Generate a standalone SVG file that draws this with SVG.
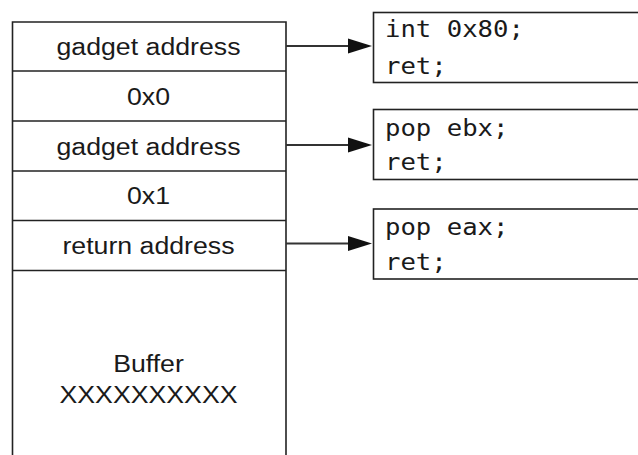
<svg xmlns="http://www.w3.org/2000/svg" width="638" height="455" viewBox="0 0 638 455">
<style>
.box{fill:#fff;stroke:#222;stroke-width:1.6}
.ln{stroke:#222;stroke-width:1.6;fill:none}
.lbl{font-family:"Liberation Sans",Arial,Helvetica,sans-serif;font-size:24.5px;fill:#1a1a1a;text-anchor:middle}
.code{font-family:"DejaVu Sans Mono","Liberation Mono",monospace;font-size:22.5px;fill:#1a1a1a}
.conn{stroke:#333;stroke-width:1.8;fill:none}
.head{fill:#111}
</style>
<rect width="638" height="455" fill="#fff"/>
<g id="stack">
  <path class="ln" d="M12.5,460 V22 H286 V460"/>
  <g id="row-gadget1">
    <line class="ln" x1="12.5" y1="71" x2="286" y2="71"/>
    <text class="lbl" transform="translate(148.5,55) scale(1.09,1)">gadget address</text>
  </g>
  <g id="row-0x0">
    <line class="ln" x1="12.5" y1="121" x2="286" y2="121"/>
    <text class="lbl" transform="translate(148.5,104.5) scale(1.09,1)">0x0</text>
  </g>
  <g id="row-gadget2">
    <line class="ln" x1="12.5" y1="171" x2="286" y2="171"/>
    <text class="lbl" transform="translate(148.5,154.5) scale(1.09,1)">gadget address</text>
  </g>
  <g id="row-0x1">
    <line class="ln" x1="12.5" y1="220.5" x2="286" y2="220.5"/>
    <text class="lbl" transform="translate(148.5,204) scale(1.09,1)">0x1</text>
  </g>
  <g id="row-return">
    <line class="ln" x1="12.5" y1="270.5" x2="286" y2="270.5"/>
    <text class="lbl" transform="translate(148.5,253.5) scale(1.09,1)">return address</text>
  </g>
  <g id="row-buffer">
    <text class="lbl" transform="translate(148.5,371.5) scale(1.09,1)">Buffer</text>
    <text class="lbl" transform="translate(148.5,403) scale(1.09,1)">XXXXXXXXXX</text>
  </g>
</g>
<g id="gadget-int80">
  <rect class="box" x="373.5" y="12.5" width="280" height="70"/>
  <text class="code" transform="translate(385,36.5) scale(1.14,1)">int 0x80;</text>
  <text class="code" transform="translate(385,73.5) scale(1.14,1)">ret;</text>
</g>
<g id="gadget-popebx">
  <rect class="box" x="373.5" y="109.5" width="280" height="70"/>
  <text class="code" transform="translate(385,135.5) scale(1.14,1)">pop ebx;</text>
  <text class="code" transform="translate(385,170) scale(1.14,1)">ret;</text>
</g>
<g id="gadget-popeax">
  <rect class="box" x="373.5" y="209" width="280" height="70"/>
  <text class="code" transform="translate(385,235) scale(1.14,1)">pop eax;</text>
  <text class="code" transform="translate(385,269.5) scale(1.14,1)">ret;</text>
</g>
<g id="connectors">
  <line class="conn" x1="286" y1="46" x2="350" y2="46"/>
  <polygon class="head" points="348,38.5 372,46 348,53.5"/>
  <line class="conn" x1="286" y1="145" x2="350" y2="145"/>
  <polygon class="head" points="348,137.5 372,145 348,152.5"/>
  <line class="conn" x1="286" y1="243.5" x2="350" y2="243.5"/>
  <polygon class="head" points="348,236 372,243.5 348,251"/>
</g>
</svg>
